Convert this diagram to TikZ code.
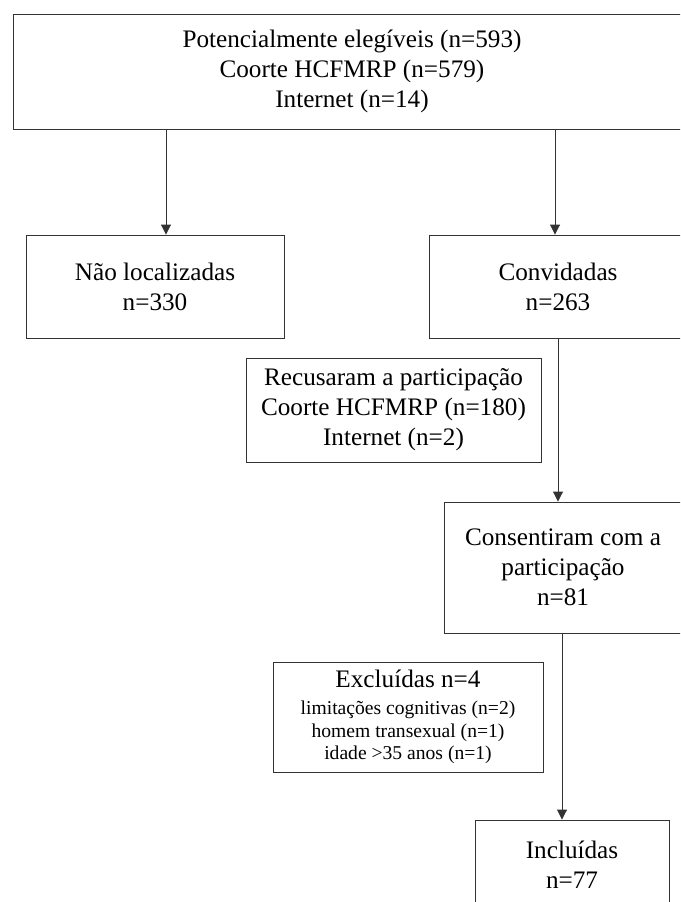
\documentclass[tikz,border=0pt]{standalone}
\usepackage{fontspec}
\setmainfont{Liberation Serif}
\usetikzlibrary{arrows.meta}
\begin{document}
\begin{tikzpicture}[x=1pt,y=-1pt,
	caixa/.style={draw=black!80,line width=0.9pt,align=center,inner sep=0pt,font=\fontsize{25.2}{30}\selectfont},
	seta/.style={draw=black!80,line width=0.9pt,-{Triangle[width=10pt,length=10pt]}}]
	\useasboundingbox (0,0) rectangle (680,902);
	\clip (0,0) rectangle (680,902);
	% caixas
	\node[caixa,minimum width=678,minimum height=115] (pot) at (352,71.5) {Potencialmente elegíveis (n=593)\\Coorte HCFMRP (n=579)\\Internet (n=14)};
	\node[caixa,minimum width=258,minimum height=103] (nao) at (155,286.5) {Não localizadas\\n=330};
	\node[caixa,minimum width=258,minimum height=103] (conv) at (558,286.5) {Convidadas\\n=263};
	\node[caixa,minimum width=295,minimum height=104] (rec) at (393.5,410) {Recusaram a participação\\Coorte HCFMRP (n=180)\\Internet (n=2)};
	\node[caixa,minimum width=238,minimum height=131] (cons) at (563,567.5) {Consentiram com a\\participação\\n=81};
	\node[caixa,minimum width=270,minimum height=110,font=\fontsize{19.6}{22.5}\selectfont] (exc) at (408,717) {{\fontsize{25.2}{30}\selectfont Excluídas n=4}\\[5pt]limitações cognitivas (n=2)\\homem transexual (n=1)\\idade >35 anos (n=1)};
	\node[caixa,minimum width=194,minimum height=90] (inc) at (572,865) {Incluídas\\n=77};
	% setas
	\coordinate (xa) at (166,0);
	\coordinate (xb) at (555,0);
	\coordinate (xc) at (558,0);
	\coordinate (xd) at (562,0);
	\draw[seta] (pot.south -| xa) -- (nao.north -| xa);
	\draw[seta] (pot.south -| xb) -- (conv.north -| xb);
	\draw[seta] (conv.south -| xc) -- (cons.north -| xc);
	\draw[seta] (cons.south -| xd) -- (inc.north -| xd);
\end{tikzpicture}
\end{document}
